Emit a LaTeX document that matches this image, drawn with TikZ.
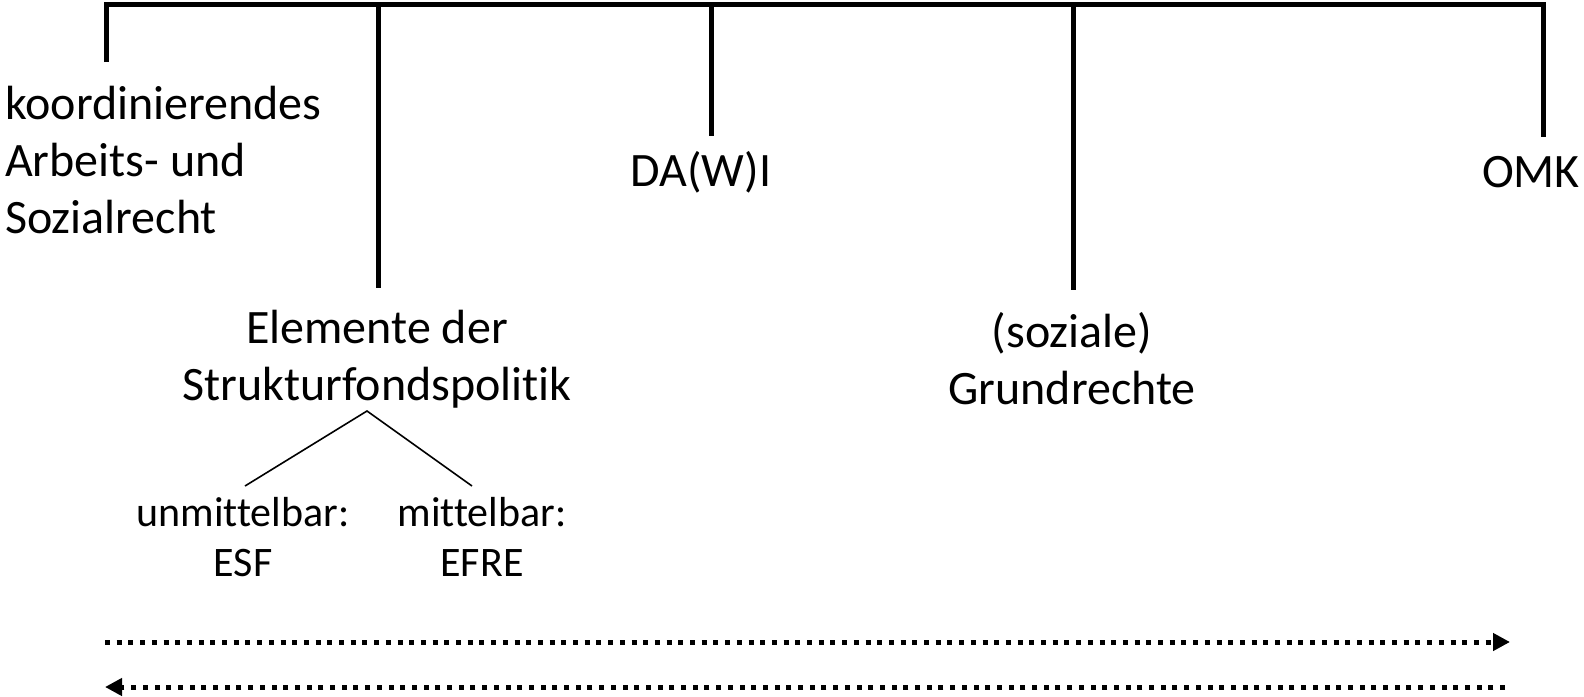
\documentclass[tikz,border=0pt]{standalone}
\usepackage{fontspec}
\setmainfont[Ligatures={NoCommon,NoRequired,NoContextual}]{Carlito}
\usetikzlibrary{arrows.meta}
\begin{document}
\begin{tikzpicture}[x=1pt,y=-1pt,
  bar/.style={line width=5pt,line join=miter},
  big/.style={inner sep=0pt,align=center,font=\fontsize{48}{57}\selectfont},
  small/.style={inner sep=0pt,align=center,font=\fontsize{42}{50}\selectfont},
  tree/.style={line width=1.6pt},
  dotline/.style={line width=5pt,dash pattern=on 5pt off 6.7pt}
]
\useasboundingbox (0,0) rectangle (1584,696);
% top bar
\coordinate (c1) at (106,4);
\coordinate (c2) at (378,4);
\coordinate (c3) at (711,4);
\coordinate (c4) at (1073,4);
\coordinate (c5) at (1543,4);
\coordinate (e1) at (106,62);
\coordinate (e2) at (378,288);
\coordinate (e3) at (711,136);
\coordinate (e4) at (1073,290);
\coordinate (e5) at (1543,137);
\draw[bar] (e1) -- (c1) -- (c5) -- (e5);
\draw[bar] (c2) -- (e2);
\draw[bar] (c3) -- (e3);
\draw[bar] (c4) -- (e4);
% texts
\node[big,align=left,anchor=west] (koord) at (5,160) {koordinierendes\\Arbeits- und\\Sozialrecht};
\node[big] (daw) at (701,172) {DA(W)I};
\node[big] (omk) at (1531,172) {OMK};
\node[big] (elem) at (377,359) {Elemente der\\Strukturfondspolitik};
\node[big] (grund) at (1072,359) {(soziale)\\Grundrechte};
\node[small] (unm) at (243,537) {unmittelbar:\\ESF};
\node[small] (mit) at (482,537) {mittelbar:\\EFRE};
% tree
\coordinate (apex) at (367,411);
\coordinate (tl) at (245,486);
\coordinate (tr) at (472,486);
\draw[tree] (tl) -- (apex) -- (tr);
% dotted arrows
\coordinate (a1) at (105,642);
\coordinate (a2) at (1510,642);
\coordinate (b1) at (105,687);
\coordinate (b2) at (1505,687);
\draw[dotline,-{Triangle[length=17pt,width=17pt]}] (a1) -- (a2);
\draw[dotline,-{Triangle[length=17pt,width=17pt]}] (b2) -- (b1);
\end{tikzpicture}
\end{document}
